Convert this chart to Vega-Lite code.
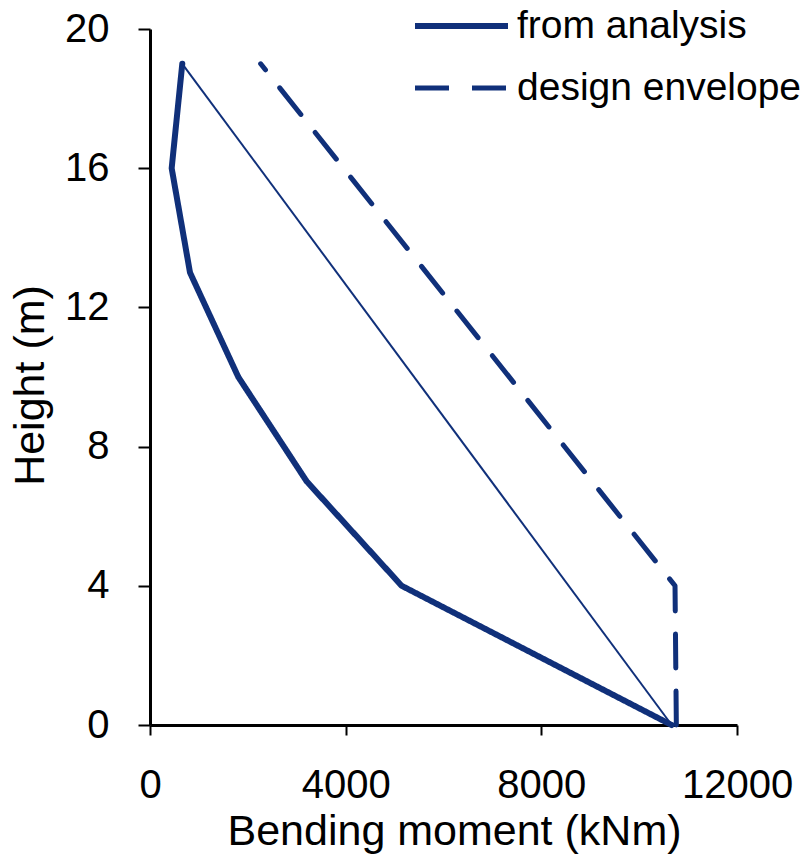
{
  "$schema": "https://vega.github.io/schema/vega-lite/v6.json",
  "width": 587,
  "height": 696,
  "autosize": {"type": "none"},
  "padding": {"left": 150, "top": 29, "right": 66, "bottom": 141},
  "config": {
    "view": {"stroke": null},
    "font": "Liberation Sans",
    "axis": {
      "grid": false,
      "labelFlush": false,
      "labelOverlap": false,
      "domainColor": "#000000",
      "domainWidth": 3,
      "tickColor": "#000000",
      "tickWidth": 2,
      "labelColor": "#000000",
      "titleColor": "#000000",
      "labelFont": "Liberation Sans",
      "titleFont": "Liberation Sans",
      "titleFontWeight": "normal",
      "labelFontSize": 40
    }
  },
  "layer": [
    {
      "data": {
        "values": [
          {"series": "from analysis", "moment": 10665, "height": 0, "o": 1},
          {"series": "from analysis", "moment": 5145, "height": 4, "o": 2},
          {"series": "from analysis", "moment": 3203, "height": 7, "o": 3},
          {"series": "from analysis", "moment": 1805, "height": 10, "o": 4},
          {"series": "from analysis", "moment": 818, "height": 13, "o": 5},
          {"series": "from analysis", "moment": 443, "height": 16, "o": 6},
          {"series": "from analysis", "moment": 660, "height": 19, "o": 7},
          {"series": "design envelope", "moment": 10760, "height": 0, "o": 1},
          {"series": "design envelope", "moment": 10733, "height": 4, "o": 2},
          {"series": "design envelope", "moment": 2262, "height": 19, "o": 3}
        ]
      },
      "mark": {"type": "line", "color": "#10307A", "strokeCap": "round", "strokeJoin": "round"},
      "encoding": {
        "x": {
          "field": "moment", "type": "quantitative",
          "scale": {"domain": [0, 12000], "nice": false},
          "axis": {"values": [0, 4000, 8000, 12000], "tickSize": 10, "labelPadding": 30, "title": "Bending moment (kNm)", "titleFontSize": 43, "titlePadding": 5, "titleX": 304, "format": "d"}
        },
        "y": {
          "field": "height", "type": "quantitative",
          "scale": {"domain": [0, 20], "nice": false},
          "axis": {"values": [0, 4, 8, 12, 16, 20], "tickSize": 12, "labelPadding": 29, "title": "Height (m)", "titleFontSize": 43, "titlePadding": 12, "titleY": 356}
        },
        "order": {"field": "o", "type": "quantitative"},
        "strokeDash": {
          "field": "series", "type": "nominal",
          "scale": {"domain": ["from analysis", "design envelope"], "range": [[1, 0], [34, 23]]},
          "legend": {
            "title": null,
            "orient": "none",
            "legendX": 262,
            "legendY": -34,
            "symbolType": "stroke",
            "symbolSize": 8649,
            "symbolStrokeWidth": 5,
            "symbolStrokeColor": "#10307A",
            "symbolDash": [[1, 0], [36, 18]],
            "labelFontSize": 39,
            "labelFont": "Liberation Sans",
            "labelColor": "#000000",
            "labelOffset": 6,
            "labelLimit": 0,
            "clipHeight": 62,
            "rowPadding": 0
          }
        },
        "strokeWidth": {
          "field": "series", "type": "nominal",
          "scale": {"domain": ["from analysis", "design envelope"], "range": [6, 5]},
          "legend": null
        }
      }
    },
    {
      "data": {
        "values": [
          {"series": "chord", "moment": 660, "height": 19},
          {"series": "chord", "moment": 10665, "height": 0}
        ]
      },
      "mark": {"type": "line", "color": "#10307A", "strokeWidth": 2},
      "encoding": {
        "x": {"field": "moment", "type": "quantitative"},
        "y": {"field": "height", "type": "quantitative"}
      }
    }
  ]
}
